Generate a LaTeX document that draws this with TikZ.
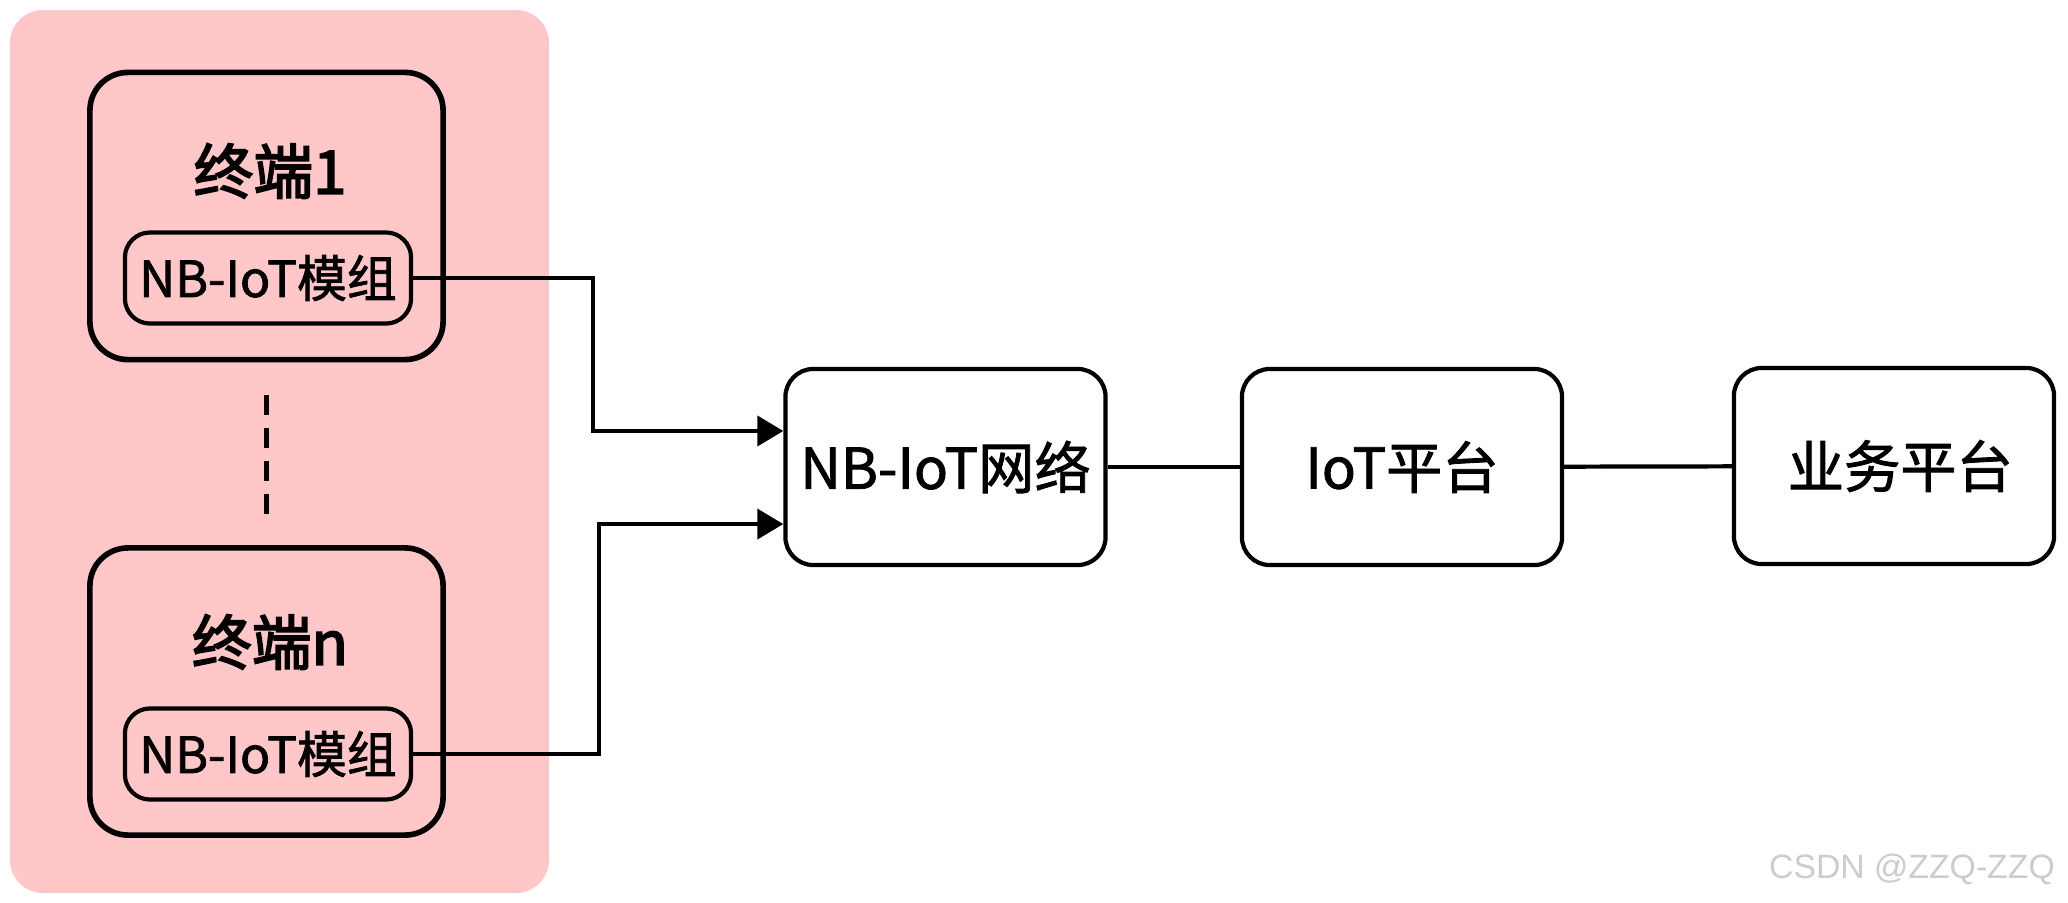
\documentclass[tikz,border=0pt]{standalone}
\usepackage{fontspec}
\setmainfont{Noto Sans CJK SC}[FakeBold=1.5]
\newfontfamily\titlefont{Noto Sans CJK SC}[FakeBold=2.8]
\newfontfamily\markfont{Liberation Sans}
\usetikzlibrary{arrows.meta,positioning}
\definecolor{lightpink}{RGB}{255,199,199}

\begin{document}
\begin{tikzpicture}[x=0.01cm,y=-0.01cm,
  termbox/.style={draw,line width=1.6pt,rounded corners=0.38cm,minimum width=3.53cm,minimum height=2.87cm},
  modbox/.style={draw,line width=1.2pt,rounded corners=0.25cm,minimum width=2.86cm,minimum height=0.91cm,font=\fontsize{14.2}{17}\selectfont},
  title/.style={font=\titlefont\fontsize{17}{20}\selectfont},
  mainbox/.style={draw,line width=1.2pt,rounded corners=0.28cm,minimum width=3.2cm,minimum height=1.96cm,font=\fontsize{16}{19}\selectfont},
  conn/.style={line width=1.2pt},
  arr/.style={line width=1.2pt,-{Triangle[length=0.26cm,width=0.3cm]}}]
\useasboundingbox (0,0) rectangle (2068,902);

\fill[lightpink,rounded corners=0.33cm] (10,10) rectangle (549,893);

% terminals
\node[termbox] (t1) at (266.5,216) {};
\node[title] (t1title) at (270,171) {终端1};
\node[modbox] (m1) at (268,278) {NB-IoT模组};

\node[termbox] (tn) at (266.5,691.5) {};
\node[title] (tntitle) at (270,642) {终端n};
\node[modbox] (mn) at (268,754) {NB-IoT模组};

\draw[line width=1.5pt,dash pattern=on 0.2cm off 0.13cm] ([yshift=-0.33cm]t1.south) -- ([yshift=0.23cm]tn.north);

% network and platforms
\node[mainbox] (net) at (945.5,467) {NB-IoT网络};
\node[mainbox] (iot) at (1402,467) {IoT平台};
\node[mainbox] (biz) at (1894,466) {\ 业务平台};

\draw[arr] (m1.east) -- ++(180,0) |- ([yshift=0.36cm]net.west);
\draw[arr] (mn.east) -- ++(186,0) |- ([yshift=-0.57cm]net.west);
\draw[conn] (net) -- (iot);
\draw[conn] (iot) -- (biz);

\node[text=gray!40,font=\markfont\fontsize{9.6}{12}\selectfont] (mark) at (1912,869) {CSDN @ZZQ-ZZQ};

\end{tikzpicture}
\end{document}
